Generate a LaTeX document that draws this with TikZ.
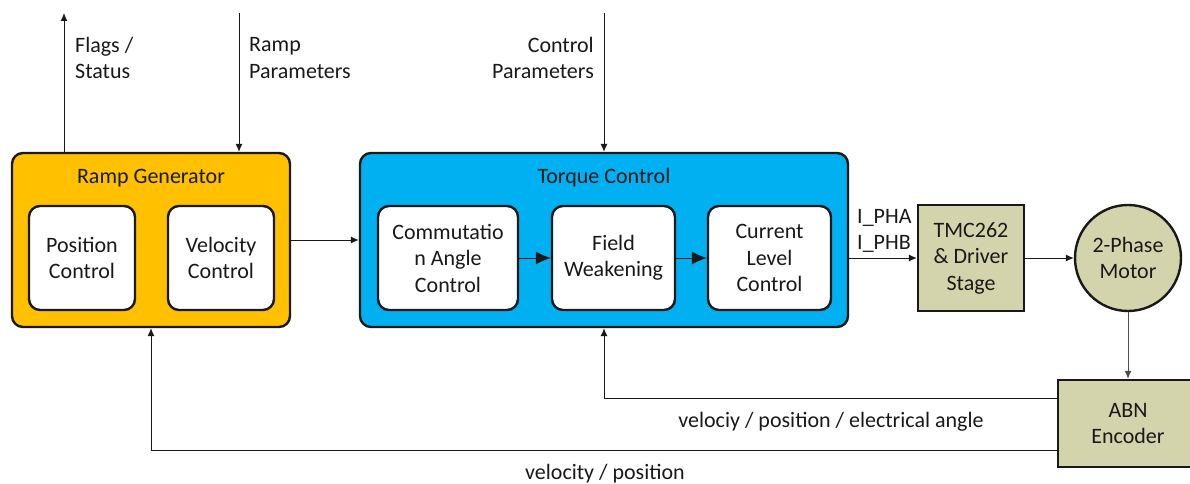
\documentclass[tikz,border=0pt]{standalone}
\usepackage{fontspec}
\setmainfont{Carlito}
\usetikzlibrary{arrows.meta,calc}
\definecolor{rampor}{RGB}{255,192,0}
\definecolor{torqbl}{RGB}{0,176,240}
\definecolor{olivebx}{RGB}{212,212,172}
\begin{document}
\begin{tikzpicture}[x=1pt,y=-1pt,
  every node/.style={font=\fontsize{22}{26.5}\selectfont, text=black!90},
  outerbox/.style={draw=black!90, line width=2.4pt, rounded corners=11pt, inner sep=0pt},
  innerbox/.style={draw=black!90, fill=white, line width=2.4pt, rounded corners=11pt, align=center, inner sep=0pt},
  hwbox/.style={draw=black!90, fill=olivebx, line width=2.4pt, align=center, inner sep=0pt},
  conn/.style={line width=1pt, draw=black!90},
  arr/.style={conn, -{Latex[length=8pt,width=7pt]}},
  bigarr/.style={conn, -{Latex[length=15pt,width=13pt]}},
  lbl/.style={inner sep=0pt, align=left}]
\useasboundingbox (0,0) rectangle (1190,484);
% Ramp generator
\node[outerbox, fill=rampor, minimum width=278pt, minimum height=174pt] (rg) at (151,240) {};
\node (rgt) at (151,178) {Ramp Generator};
\node[innerbox, minimum width=106pt, minimum height=104pt] (pc) at (82,258) {Position\\Control};
\node[innerbox, minimum width=106pt, minimum height=104pt] (vc) at (221,258) {Velocity\\Control};
% Torque control
\node[outerbox, fill=torqbl, minimum width=488pt, minimum height=174pt] (tc) at (604,240) {};
\node (tct) at (604,178) {Torque Control};
\node[innerbox, minimum width=140pt, minimum height=104pt] (cac) at (448,258) {Commutatio\\n Angle\\Control};
\node[innerbox, minimum width=123pt, minimum height=104pt] (fw) at (613.5,258) {Field\\Weakening};
\node[innerbox, minimum width=123pt, minimum height=104pt] (clc) at (769.5,258) {Current\\Level\\Control};
% hardware
\node[hwbox, minimum width=106pt, minimum height=106pt] (tmc) at (971,258) {TMC262\\\& Driver\\Stage};
\node[hwbox, circle, minimum size=106pt] (mot) at (1128,258) {2-Phase\\Motor};
\node[hwbox, minimum width=140pt, minimum height=87pt] (enc) at (1128,423.5) {ABN\\Encoder};
% coordinates
\coordinate (flagtop) at (64,13);
\coordinate (rptop) at (239,13);
\coordinate (cptop) at (604,13);
\coordinate (fb1) at (604,398);
\coordinate (fb2) at (151,450);
% connectors
\draw[arr] (flagtop |- rg.north) -- (flagtop);
\draw[arr] (rptop) -- (rptop |- rg.north);
\draw[arr] (cptop) -- (tc.north);
\draw[arr] (rg.east) -- (tc.west);
\draw[bigarr] (cac.east) -- (fw.west);
\draw[bigarr] (fw.east) -- (clc.west);
\draw[arr] (tc.east |- tmc.west) -- (tmc.west);
\draw[arr] (tmc.east) -- (mot.west);
\draw[arr, draw=black!70] (mot.south) -- (enc.north);
\draw[arr] (enc.west |- fb1) -- (fb1) -- (tc.south);
\draw[arr] (enc.west |- fb2) -- (fb2) -- (rg.south);
% labels
\node[lbl, anchor=west] (lflag) at (75,58) {Flags /\\Status};
\node[lbl, anchor=west] (lramp) at (249,58) {Ramp\\Parameters};
\node[lbl, anchor=east, align=right] (lctrl) at (594,58) {Control\\Parameters};
\node[lbl, anchor=west] (lpha) at (857,231) {I\_PHA\\I\_PHB};
\node (lfb1) at (831,422) {velociy / position / electrical angle};
\node (lfb2) at (605,474) {velocity / position};
\end{tikzpicture}
\end{document}
